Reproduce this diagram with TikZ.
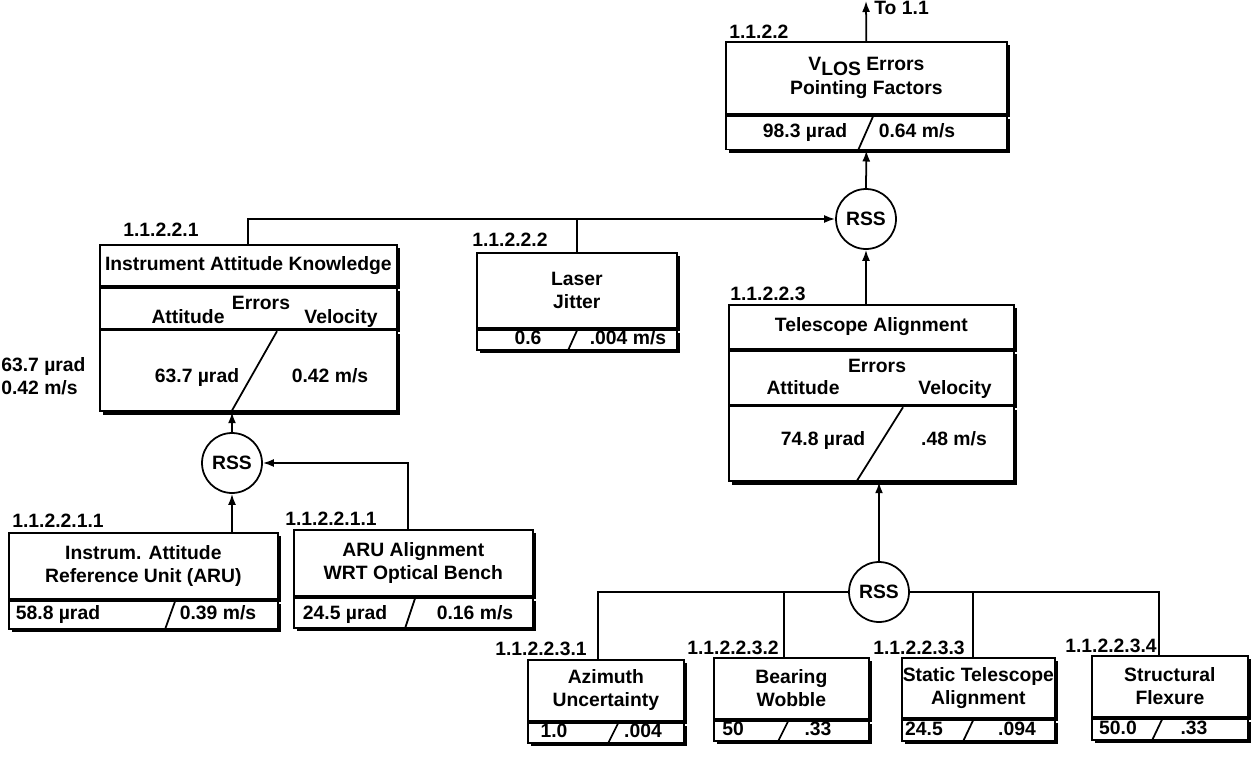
\documentclass[tikz,border=0pt]{standalone}
\usepackage{fontspec}
\setmainfont{Liberation Sans}
\usetikzlibrary{positioning,shadows,arrows.meta}

\tikzset{
  part/.style={draw,line width=1pt,fill=white,inner sep=0pt,align=center,
    drop shadow={shadow xshift=2pt,shadow yshift=-2pt,opacity=1,fill=black}},
  val/.style={inner sep=0pt,text height=8pt,text depth=0pt},
  lbl/.style={anchor=base west,inner sep=0pt},
  rss/.style={circle,draw,line width=1pt,fill=white,minimum size=1.2cm,inner sep=0pt},
  link/.style={line width=1pt},
  arr/.style={link,-{Latex[length=2.2mm,width=1.6mm]}},
}

\begin{document}
\begin{tikzpicture}[x=0.02cm,y=-0.02cm,font=\fontsize{11}{13}\selectfont\bfseries]
\useasboundingbox (0,0) rectangle (1254,761);
% \draw[help lines,step=50] (0,0) grid (1254,761);
%
% top level
\node (vlos) [part,anchor=north west,minimum width=5.62cm,minimum height=1.44cm] at (725,41)
  {V\raisebox{-0.5ex}{LOS} Errors\\[1pt]Pointing Factors};
\node (vlosv) [part,below=0pt of vlos,minimum width=5.62cm,minimum height=0.68cm] {};
\node (vlos1) [val] at (805,130) {98.3 µrad};
\node (vlos2) [val] at (917,130) {0.64 m/s};
\draw[link] (vlosv.south west) ++(133,0) -- ++(15,-34);
\node (l1122) [lbl] at (729,38) {1.1.2.2};
\coordinate (to11) at (866,1);
\node (to11txt) [anchor=west,inner sep=0pt] at (874,8) {To 1.1};
\node (rss1) [rss] at (866,219) {RSS};
%
% instrument attitude knowledge
\node (iak) [part,anchor=north west,minimum width=5.94cm,minimum height=0.82cm] at (99,244)
  {Instrument Attitude Knowledge};
\node (iakh) [part,below=0pt of iak,minimum width=5.94cm,minimum height=0.82cm] {};
\node (iakv) [part,below=0pt of iakh,minimum width=5.94cm,minimum height=1.62cm] {};
\node (iakerr) [val] at (261,302) {Errors};
\node (iakatt) [val] at (188,316) {Attitude};
\node (iakvel) [val] at (341,316) {Velocity};
\node (iak1) [val] at (197,375) {63.7 µrad};
\node (iak2) [val] at (330,375) {0.42 m/s};
\draw[link] (iakv.south west) ++(132,0) -- ++(46,-81);
\node (l11221) [lbl] at (123,236) {1.1.2.2.1};
\node (iaknote) [anchor=west,align=left,inner sep=0pt] at (1,376) {63.7 µrad\\0.42 m/s};
%
% laser jitter
\node (laser) [part,anchor=north west,minimum width=4cm,minimum height=1.5cm] at (476,252)
  {Laser\\Jitter};
\node (laserv) [part,below=0pt of laser,minimum width=4cm,minimum height=0.4cm] {};
\node (laser1) [val] at (528,337) {0.6};
\node (laser2) [val] at (628,337) {.004 m/s};
\draw[link] (laserv.south west) ++(92,0) -- ++(9,-20);
\node (l11222) [lbl] at (472,246) {1.1.2.2.2};
%
% telescope alignment
\node (tel) [part,anchor=north west,minimum width=5.7cm,minimum height=0.88cm] at (728,304)
  {Telescope Alignment};
\node (telh) [part,below=0pt of tel,minimum width=5.7cm,minimum height=1.08cm] {};
\node (telv) [part,below=0pt of telh,minimum width=5.7cm,minimum height=1.5cm] {};
\node (telerr) [val] at (877,365) {Errors};
\node (telatt) [val] at (803,387) {Attitude};
\node (telvel) [val] at (955,387) {Velocity};
\node (tel1) [val] at (823,438) {74.8 µrad};
\node (tel2) [val] at (954,438) {.48 m/s};
\draw[link] (telv.south west) ++(128,0) -- ++(47,-75);
\node (l11223) [lbl] at (730,300) {1.1.2.2.3};
%
% attitude reference unit
\node (rss0) [rss] at (232,463) {RSS};
\node (aru) [part,anchor=north west,minimum width=5.38cm,minimum height=1.32cm] at (8,532)
  {Instrum. Attitude\\Reference Unit (ARU)};
\node (aruv) [part,below=0pt of aru,minimum width=5.38cm,minimum height=0.56cm] {};
\node (aru1) [val] at (58,612) {58.8 µrad};
\node (aru2) [val] at (218,612) {0.39 m/s};
\draw[link] (aruv.south west) ++(157,0) -- ++(10,-28);
\node (l112211a) [lbl] at (12,527) {1.1.2.2.1.1};
%
\node (arua) [part,anchor=north west,minimum width=4.78cm,minimum height=1.32cm] at (293,529)
  {ARU Alignment\\WRT Optical Bench};
\node (aruav) [part,below=0pt of arua,minimum width=4.78cm,minimum height=0.6cm] {};
\node (arua1) [val] at (345,612) {24.5 µrad};
\node (arua2) [val] at (475,612) {0.16 m/s};
\draw[link] (aruav.south west) ++(112,0) -- ++(10,-30);
\node (l112211b) [lbl] at (285,525) {1.1.2.2.1.1};
%
% telescope alignment contributors
\node (rss2) [rss] at (879,592) {RSS};
\node (azim) [part,anchor=north west,minimum width=3.12cm,minimum height=1.22cm] at (527,659)
  {Azimuth\\Uncertainty};
\node (azimv) [part,below=0pt of azim,minimum width=3.12cm,minimum height=0.4cm] {};
\node (azim1) [val] at (554,730) {1.0};
\node (azim2) [val] at (643,730) {.004};
\draw[link] (azimv.south west) ++(81,0) -- ++(10,-20);
\node (l112231) [lbl] at (495,655) {1.1.2.2.3.1};
%
\node (bear) [part,anchor=north west,minimum width=3.1cm,minimum height=1.22cm] at (713,657)
  {Bearing\\Wobble};
\node (bearv) [part,below=0pt of bear,minimum width=3.1cm,minimum height=0.4cm] {};
\node (bear1) [val] at (733,728) {50};
\node (bear2) [val] at (818,728) {.33};
\draw[link] (bearv.south west) ++(65,0) -- ++(10,-20);
\node (l112232) [lbl] at (687,654) {1.1.2.2.3.2};
%
\node (stat) [part,anchor=north west,minimum width=3.06cm,minimum height=1.2cm] at (901,657)
  {Static Telescope\\Alignment};
\node (statv) [part,below=0pt of stat,minimum width=3.06cm,minimum height=0.42cm] {};
\node (stat1) [val] at (924,728) {24.5};
\node (stat2) [val] at (1017,728) {.094};
\draw[link] (statv.south west) ++(62,0) -- ++(10,-21);
\node (l112233) [lbl] at (873,654) {1.1.2.2.3.3};
%
\node (struc) [part,anchor=north west,minimum width=3.12cm,minimum height=1.22cm] at (1091,655)
  {Structural\\Flexure};
\node (strucv) [part,below=0pt of struc,minimum width=3.12cm,minimum height=0.42cm] {};
\node (struc1) [val] at (1118,727) {50.0};
\node (struc2) [val] at (1194,727) {.33};
\draw[link] (strucv.south west) ++(61,0) -- ++(10,-21);
\node (l112234) [lbl] at (1065,652) {1.1.2.2.3.4};
%
% connectors
\draw[arr] (vlos.north) -- (to11);
\draw[arr] (rss1.north) -- (vlosv.south);
\draw[arr] (iak.north) |- (rss1.west);
\draw[link] (laser.north) -- (laser.north |- rss1.west);
\draw[arr] (rss1.south |- tel.north) -- (rss1.south);
\draw[arr] (rss2.north) -- (rss2.north |- telv.south);
\draw[link] (rss2.west) -| ([xshift=-0.16cm]azim.north);
\draw[link] (rss2.west) -| ([xshift=-0.14cm]bear.north);
\draw[link] (rss2.east) -| ([xshift=-0.1cm]stat.north);
\draw[link] (rss2.east) -| ([xshift=-0.22cm]struc.north);
\draw[arr] (rss0.north) -- (rss0.north |- iakv.south);
\draw[arr] (rss0.south |- aru.north) -- (rss0.south);
\draw[arr] ([xshift=-0.1cm]arua.north) |- (rss0.east);
\end{tikzpicture}
\end{document}
